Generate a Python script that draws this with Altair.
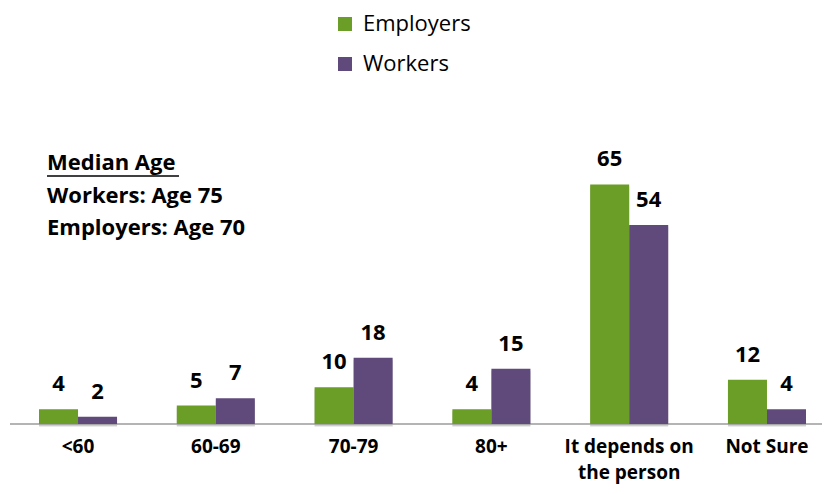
import altair as alt
import pandas as pd

categories = ["<60", "60-69", "70-79", "80+", "It depends on the person", "Not Sure"]
employers = [4, 5, 10, 4, 65, 12]
workers = [2, 7, 18, 15, 54, 4]
series = ["Employers", "Workers"]
colors = ["#6b9e26", "#5f4a7b"]

notes = ["Median Age", "Workers: Age 75", "Employers: Age 70"]

rows = []
for c, e, w in zip(categories, employers, workers):
    rows.append({"cat": c, "series": "Employers", "value": e})
    rows.append({"cat": c, "series": "Workers", "value": w})
df = pd.DataFrame(rows)

FONT = "Open Sans"

x_enc = alt.X("cat:N", sort=categories, title=None,
              scale=alt.Scale(paddingInner=0.4336, paddingOuter=0),
              axis=alt.Axis(domain=False, ticks=False, tickSize=0, labelAngle=0,
                            labelFont=FONT, labelFontSize=19, labelFontWeight="bold",
                            labelColor="#000000", labelPadding=13, labelBaseline="top",
                            labelLineHeight=26, labelLimit=300,
                            labelExpr="datum.label == 'It depends on the person' ? ['It depends on', 'the person'] : datum.label"))
xo_enc = alt.XOffset("series:N", sort=series, scale=alt.Scale(paddingInner=0, paddingOuter=0))
y_enc = alt.Y("value:Q", title=None, scale=alt.Scale(domain=[0, 70]), axis=None)

base = alt.Chart(df)

shadow_far = base.mark_bar(color="#8c8c8c", opacity=0.18, xOffset=5, yOffset=3).encode(
    x=x_enc, xOffset=xo_enc, y=y_enc
)
shadow_near = base.mark_bar(color="#8c8c8c", opacity=0.3, xOffset=2, yOffset=2).encode(
    x=x_enc, xOffset=xo_enc, y=y_enc
)

bars = base.mark_bar().encode(
    x=x_enc, xOffset=xo_enc, y=y_enc,
    color=alt.Color("series:N", sort=series,
                    scale=alt.Scale(domain=series, range=colors),
                    legend=alt.Legend(title=None, orient="none", legendX=295, legendY=-153,
                                      symbolType="square", symbolSize=196, symbolStrokeWidth=0,
                                      labelFont=FONT, labelFontSize=22, labelColor="#000000",
                                      rowPadding=18, padding=0, labelOffset=7))
)

labels = base.mark_text(font=FONT, fontSize=22, fontWeight="bold", color="#000000",
                        baseline="alphabetic", dy=-18).encode(
    x=x_enc, xOffset=xo_enc, y=y_enc, text="value:Q"
)

axis_line = alt.Chart(pd.DataFrame({"a": [0]})).mark_rule(color="#9b9b9b", strokeWidth=1.5).encode(
    x=alt.value(-29), x2=alt.value(790), y=alt.value(258)
)

note_df = pd.DataFrame({"text": notes, "row": [0, 1, 2]})
note_text = alt.Chart(note_df).mark_text(font=FONT, fontSize=22, fontWeight="bold", color="#000000",
                                         align="left", baseline="middle").encode(
    text="text:N",
    x=alt.value(8),
    y=alt.Y("row:O", axis=None, scale=alt.Scale(range=[-3, 62], padding=0, paddingOuter=0)),
)

underline = alt.Chart(pd.DataFrame({"a": [0]})).mark_rule(color="#000000", strokeWidth=1.5).encode(
    x=alt.value(8), x2=alt.value(140), y=alt.value(10)
)

chart = alt.layer(shadow_far, shadow_near, axis_line, bars, labels, note_text, underline).resolve_scale(
    y="independent"
).properties(
    width=767, height=258,
    autosize=alt.AutoSizeParams(type="none"),
    padding={"left": 31, "top": 158, "right": 16, "bottom": 62},
).configure_view(strokeWidth=0)

chart.save("out.html", embed_options={"renderer": "svg", "actions": False})
